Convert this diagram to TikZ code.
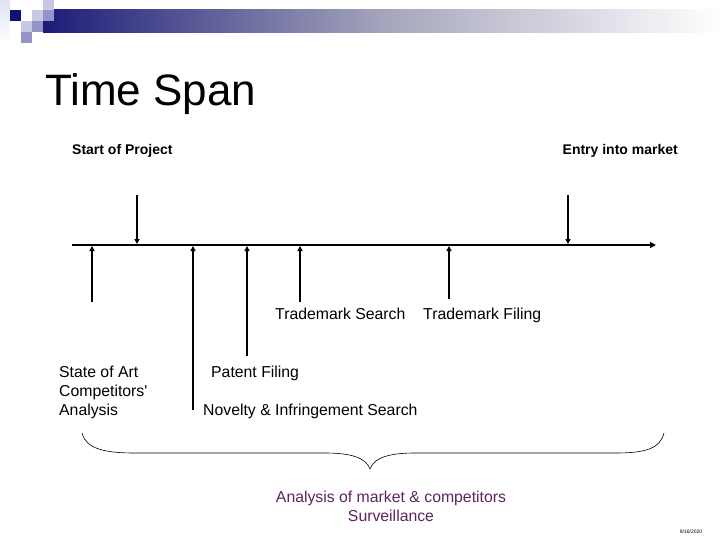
\documentclass[tikz,border=0pt]{standalone}
\usepackage{fontspec}
\setmainfont{Liberation Sans}
\usetikzlibrary{arrows.meta}
\definecolor{navy}{HTML}{1C1C78}
\definecolor{sqdark}{HTML}{10107A}
\definecolor{sqmid}{HTML}{9494C8}
\definecolor{sqlight}{HTML}{C8C8E6}
\definecolor{sqpale}{HTML}{E2E2F2}
\definecolor{barmid}{HTML}{A4A4BC}
\definecolor{purp}{HTML}{5E2462}
\tikzset{
  evt/.style={line width=1.6pt,-{Triangle[length=5pt,width=5pt]}},
  axis/.style={line width=2pt,-{Triangle[length=6pt,width=6pt]}},
  lbl/.style={inner sep=0pt,font=\fontsize{15.8}{19}\selectfont},
  blbl/.style={inner sep=0pt,font=\fontsize{14}{17}\selectfont\bfseries},
  sq/.style={draw=none}
}
\begin{document}
\begin{tikzpicture}[x=1pt,y=-1pt]
\useasboundingbox (0,0) rectangle (720,540);
\fill[white] (0,0) rectangle (720,540);
% header bar
\shade[left color=navy, right color=white, middle color=barmid] (43,10) rectangle (720,33);
\shade[sq, top color=sqpale, bottom color=white] (0,0) rectangle (10,43);
\fill[sqdark] (10,10) rectangle (21,21);
\fill[sqlight] (21,21) rectangle (32,32);
\fill[sqlight] (32,10) rectangle (43,21);
\fill[sqmid] (32,21) rectangle (43,32);
\fill[sqlight] (43,0) rectangle (54,10);
\fill[sqmid] (43,10) rectangle (54,21);
\fill[sqmid] (21,32) rectangle (32,43);
% title
\node[inner sep=0pt, anchor=base west, font=\fontsize{44}{50}\selectfont] (title) at (45,106) {Time Span};
% top labels
\node[blbl, anchor=base west] (start) at (72,155) {Start of Project};
\node[blbl, anchor=base east] (entry) at (678,155) {Entry into market};
% timeline
\coordinate (t0) at (72,245);
\coordinate (t1) at (656,245);
\draw[axis] (t0) -- (t1);
% down arrows
\coordinate (d1s) at (137,195); \coordinate (d1e) at (137,244);
\coordinate (d2s) at (568,195); \coordinate (d2e) at (568,244);
\draw[evt] (d1s) -- (d1e);
\draw[evt] (d2s) -- (d2e);
% up arrows
\coordinate (u1s) at (92,302);  \coordinate (u1e) at (92,246);
\coordinate (u2s) at (193,410); \coordinate (u2e) at (193,246);
\coordinate (u3s) at (247,356); \coordinate (u3e) at (247,246);
\coordinate (u4s) at (300,302); \coordinate (u4e) at (300,246);
\coordinate (u5s) at (449,299); \coordinate (u5e) at (449,246);
\draw[evt] (u1s) -- (u1e);
\draw[evt] (u2s) -- (u2e);
\draw[evt] (u3s) -- (u3e);
\draw[evt] (u4s) -- (u4e);
\draw[evt] (u5s) -- (u5e);
% labels
\node[lbl, anchor=base west] (tms) at (275,319.5) {Trademark Search};
\node[lbl, anchor=base west] (tmf) at (423,319.5) {Trademark Filing};
\node[lbl, anchor=north west, align=left] (soa) at (59,365.5) {State of Art\\Competitors\textquotesingle\\Analysis};
\node[lbl, anchor=base west] (pf) at (211,377.5) {Patent Filing};
\node[lbl, anchor=base west] (nov) at (203,415.5) {Novelty \& Infringement Search};
% brace
\coordinate (bl) at (82,433);
\coordinate (br) at (664,433);
\coordinate (btip) at (370,469);
\draw[line width=0.6pt] (bl) .. controls (86,449) and (105,453) .. (135,453) -- (325,453)
  .. controls (352,453) and (366,458) .. (btip)
  .. controls (374,458) and (388,453) .. (415,453) -- (615,453)
  .. controls (645,453) and (660,449) .. (br);
\node[lbl, text=purp, align=center, anchor=north] (ana) at (391,490.5) {Analysis of market \& competitors\\Surveillance};
% date
\node[inner sep=0pt, font=\fontsize{5}{6}\selectfont, anchor=base] (date) at (691,533) {9/16/2020};
\end{tikzpicture}
\end{document}
